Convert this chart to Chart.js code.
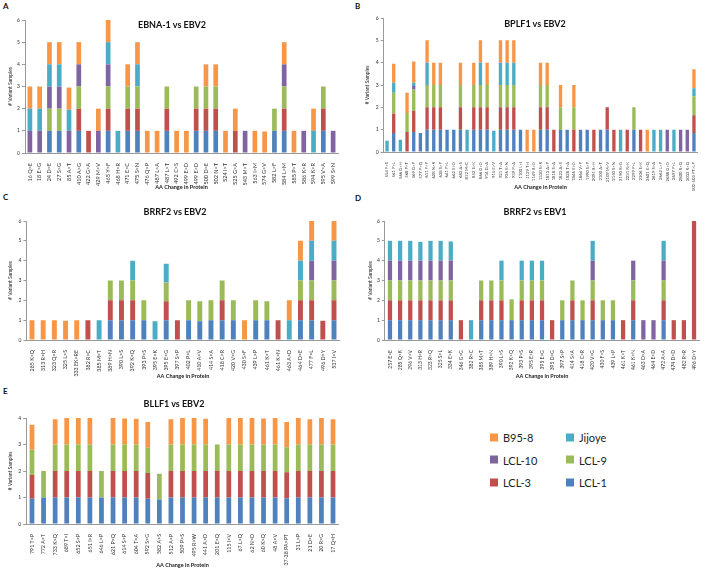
<!DOCTYPE html>
<html><head><meta charset="utf-8">
<script src="https://cdn.jsdelivr.net/npm/chart.js@4.4.1/dist/chart.umd.min.js"></script>
<style>
body{margin:0;width:704px;height:569px;position:relative;background:#fff;font-family:Lato,"Open Sans",sans-serif;overflow:hidden}
canvas{position:absolute}
.t{position:absolute;transform:translate(-50%,-50%);font-weight:bold;font-size:9px;white-space:nowrap;color:#111}
.l{position:absolute;font-weight:bold;font-size:8px;color:#111}
.lg{position:absolute;font-size:11px;color:#222;display:flex;align-items:center;transform:translateY(-50%);white-space:nowrap}
.lg span{display:inline-block;width:8px;height:8px;margin-right:5px}
</style></head><body>
<div class="l" style="left:3px;top:1px">A</div>
<div class="l" style="left:355px;top:1px">B</div>
<div class="l" style="left:3px;top:192px">C</div>
<div class="l" style="left:355px;top:193px">D</div>
<div class="l" style="left:3px;top:386px">E</div>
<canvas id="cA" width="352" height="195" style="left:0;top:0"></canvas>
<canvas id="cB" width="352" height="195" style="left:352px;top:0"></canvas>
<canvas id="cC" width="352" height="190" style="left:0;top:195px"></canvas>
<canvas id="cD" width="352" height="190" style="left:352px;top:195px"></canvas>
<canvas id="cE" width="352" height="184" style="left:0;top:385px"></canvas>
<div class="t" style="left:172px;top:24px">EBNA-1 vs EBV2</div>
<div class="t" style="left:535px;top:23px">BPLF1 vs EBV2</div>
<div class="t" style="left:175px;top:211px">BRRF2 vs EBV2</div>
<div class="t" style="left:535px;top:211px">BRRF2 vs EBV1</div>
<div class="t" style="left:174px;top:403px">BLLF1 vs EBV2</div>
<div id="legend"></div>
<script>
// ---------- series ----------
const seriesNames = ['LCL-1','LCL-3','LCL-9','LCL-10','Jijoye','B95-8'];
const seriesColors = ['#4F81BD','#C0504D','#9BBB59','#8064A2','#4BACC6','#F79646'];

// ---------- Panel A: EBNA-1 vs EBV2 ----------
const A_labels = ['16 Q>E','18 E>G','24 D>E','27 S>G','85 A>T','410 A>G','422 G>A','429 M>V','465 Y>F','468 H>R','471 E>C','475 S>N','476 Q>P','487 L>A','487 L>T','492 C>S','499 E>D','499 E>D','500 D>E','502 N>T','524 I>T','525 G>A','543 M>T','563 I>M','574 G>V','582 L>F','584 L>M','585 P>T','586 K>R','594 K>R','595 V>A','599 S>N'];
const A_LCL1  = [0,0,1,1,0,1,0,0,1,0,1,1,0,0,1,0,0,1,1,1,0,0,0,0,0,1,1,0,0,0,1,0];
const A_LCL3  = [0,0,0,0,0,1,1,0,1,0,1,1,0,0,1,0,0,1,1,1,0,1,0,0,0,0,1,0,0,0,1,0];
const A_LCL9  = [0,0,1,1,0,1,0,0,1,0,1,1,0,0,1,0,0,1,1,1,0,0,0,0,0,1,1,0,0,0,1,0];
const A_LCL10 = [1,1,1,1,1,1,0,1,1,0,0,0,0,0,0,0,0,0,0,0,0,0,1,0,0,0,1,0,1,0,0,1];
const A_Jij   = [1,1,1,1,0.95,0,0,0,1,1,0,1,0,0,0,0,0,0,0,0,0,0,0,0,0,0,0,0,0,1,0,0];
const A_B958  = [1,1,1,1,1,1,0,1,1,0,1,1,1,1,0,1,1,0,1,1,1,1,0,1,0.97,0,1,1,0,1,0,0];

// ---------- Panel B: BPLF1 vs EBV2 ----------
const B_labels = ['554 F>S','561 P>L','566 G>H','568 P>T','569 G>P','577 P>Q','611 F>P','628 N>R','638 S>P','641 P>L','662 E>D','682 A>S','812 M>C','852 E>K','866 G>D','914 G>A','915 E>V','921 T>A','926 E>N','939 P>A','1100 L>I','1129 T>I','1149 R>D','1330 S>R','1813 A>P','1818 S>A','1823 A>S','1828 T>A','1846 E>D','1864 V>P','1990 S>P','2095 R>H','2100 A>T','2109 M>V','2150 S>N','2190 R>G','2231 R>K','2299 P>L','2306 E>K','2601 E>Q','2619 S>A','2662 L>P','2688 G>D','2697 P>L','2800 R>Q','3033 R>Q','502-503 PT>LP'];
const B_LCL1  = [0,0.85,0,0,0.9,0.85,1,1,1,1, 1,1,0,1,1,1,0,1,1,1, 1,0,0,1,1,0,1,1,0,1, 1,0,1,1,0,0,0,1,0,0, 0,0,0,0,0,0,0.85];
const B_LCL3  = [0,0.87,0,0.9,0.95,0,1,1,1,0, 0,1,0,1,1,1,0,1,1,1, 0,0,0,1,1,1,0,0,1,0, 0,1,0,1,1,0,1,0,1,0, 0,0,0,0,0,0,0.8];
const B_LCL9  = [0,0.93,0,0.85,0.95,0,1,1,1,0, 0,1,0,1,1,1,0,1,1,1, 0,0,0,1,1,0,1,0,1,0, 0,0,0,0,0,0,0,1,0,0, 0,0,0,0,0,0,0.85];
const B_LCL10 = [0,0,0,0,0.15,0,0,0,0,0, 0,0,0,0,0,0,0,0,0,0, 0,0,0,0,0,0,0,0,0,0, 0,0,0,0,0,0,0,0,0,0, 0,0,1,0,1,1,0];
const B_Jij   = [0.5,0.45,0.55,0,0.15,0,1,0,0,0, 0,0,1,0,1,0,0.95,1,1,1, 0,0,0,0,0,0,0,0,0,0, 0,0,0,0,0,1,0,0,0,0, 1,1,0,1,0,0,0.35];
const B_B958  = [0,0.85,0,0.9,0.95,0,1,1,1,0, 0,1,0,1,1,1,0,1,1,1, 0,1,1,1,1,0,1,0,1,0, 0,0,0,0,0,0,0,0,0,1, 0,0,0,0,0,0,0.85];

// ---------- Panel C: BRRF2 vs EBV2 ----------
const C_labels = ['285 K>Q','313 R>H','323 Q>R','325 L>S','333 EK>RE','382 R>C','385 M>T','389 H>N','390 L>S','392 K>Q','393 P>S','395 E>K','395 E>G','397 S>P','402 P>L','410 A>V','414 S>A','418 C>R','420 V>G','430 S>F','439 L>P','461 K>T','461 K>N','463 A>D','464 D>E','477 F>L','496 D>Y','537 I>V'];
const C_LCL1  = [0,0,0,0,0,0,0,1,1,1,1,0,1,0,1,0.95,1,1,1,0,1,1,0,0,1,1,0,1];
const C_LCL3  = [0,0,0,0,0,1,0,1,1,1,0,0,0.95,1,0,0,0,1,0,0,0,0,1,0,1,1,0.97,1];
const C_LCL9  = [0,0,0,0,0,0,0,1,1,1,1,0,0.95,0,1,1,1,1,1,0,1,0.95,0,0,1,1,0,1];
const C_LCL10 = [0,0,0,0,0,0,0,0,0,0,0,0,0,0,0,0,0,0,0,0,0,0,0,0,0,1,0,1];
const C_Jij   = [0,0,0,0,0,0,1,0,0,1,0,0.95,0.95,0,0,0,0,0,0,0,0,0,0,1,1,1,0,1];
const C_B958  = [1,1,1,0.97,1,0,0,0,0,0,0,0,0,0,0,0,0,0,0,1,0,0,0,1,1,1,0,1];

// ---------- Panel D: BRRF2 vs EBV1 ----------
const D_labels = ['257 E>E','285 Q>K','296 V>V','313 H>R','323 R>Q','325 S>L','334 E>K','346 G>G','382 R>C','385 M>T','389 H>N','390 L>S','392 K>Q','393 P>S','395 E>R','395 E>G','395 D>G','397 S>P','414 S>A','418 C>R','420 V>G','430 F>S','439 L>P','461 K>T','461 K>N','463 D>A','464 E>D','472 A>A','474 D>D','482 R>R','496 D>Y'];
const D_LCL1  = [1,1,1,1,1,1,1,0,0,1,1,1,1,1,1,1,0,1,1,1,1,1,1,0,1,0,0,1,0,0,0];
const D_LCL3  = [1,1,1,1,1,1,1,1,0,1,1,1,0,1,1,1,1,0,1,0,1,0,0,1,1,0,0,1,1,1,6];
const D_LCL9  = [1,1,1,1,1,1,1,0,0,1,1,1,1.05,1,1,1,0,1,1,1,1,1,1,0,1,0,0,1,0,0,0];
const D_LCL10 = [1,1,1,1,1,1,1,0,0,0,0,0,0,0,0,0,0,0,0,0,1,0,0,0,1,1,1,1,0,0,0];
const D_Jij   = [1,1,1,0.95,1,1,0.97,0,1,0,0,1,0,1,1,1,0,0,0,0,1,0,0,0,0,0,0,1,0,0,0];
const D_B958  = [0,0,0,0,0,0,0,0,0,0,0,0,0,0,0,0,0,0,0,0,0,0,0,0,0,0,0,0,0,0,0];

// ---------- Panel E: BLLF1 vs EBV2 ----------
const E_labels = ['791 T>P','772 A>T','733 K>Q','689 T>I','652 S>P','651 I>R','646 L>P','621 P>Q','614 S>P','604 T>A','592 S>G','582 A>S','512 A>P','509 P>S','495 R>W','441 A>D','201 E>Q','115 I>V','67 L>Q','62 N>D','60 K>Q','48 A>V','37-38 PA>PT','31 L>P','21 D>E','20 R>G','17 Q>H'];
const E_LCL1  = [0.95,1,1,1,1,1,1,1,1,1,0.95,0.92,1,1,1,1,1,1,1,1,1,1,0.97,1,1,1,1];
const E_LCL3  = [0.9,0,1,1,1,1,0,1,1,1,0.97,0,1,1,1,1,1,1,1,1,1,1,0.98,1,1,1,1];
const E_LCL9  = [0.95,1,1,1,1,1,1,1,1,1,0.96,0.98,1,1,1,1,1,1,1,1,1,1,0.95,1,1,1,1];
const E_LCL10 = [0,0,0,0,0,0,0,0,0,0,0,0,0,0,0,0,0,0,0,0,0,0,0,0,0,0,0];
const E_Jij   = [0,0,0,0,0,0,0,0,0,0,0,0,0,0,0,0,0,0,0,0,0,0,0,0,0,0,0];
const E_B958  = [0.95,0,0.95,1,1,1,0,1,0.98,0.97,0.97,0,0.95,1,1,0.97,0,1,1,1,0.98,1,0.95,1,0.95,1,0.95];

const AXIS = '#9a9a9a';
const FONT = 'Lato';
function panel(id, labels, series, cfg){
  return new Chart(document.getElementById(id), {
    type:'bar',
    data:{labels:labels, datasets:series.map((d,i)=>({label:seriesNames[i], data:d, backgroundColor:seriesColors[i], borderWidth:0, barPercentage:cfg.bp, categoryPercentage:1}))},
    options:{
      responsive:false, animation:false, devicePixelRatio:1,
      layout:{padding:{left:0, top:cfg.top, right:cfg.right, bottom:0}},
      plugins:{legend:{display:false}, tooltip:{enabled:false}, title:{display:false}},
      scales:{
        x:{stacked:true, grid:{display:false}, border:{display:true,color:AXIS},
           ticks:{autoSkip:false,minRotation:90,maxRotation:90,padding:2,color:'#333',font:{family:FONT,size:cfg.tf}},
           title:{display:true,text:'AA Change in Protein',color:'#222',font:{family:FONT,size:5.5,weight:'bold'},padding:{top:0,bottom:cfg.xpb}},
           afterFit:s=>{s.height=cfg.xh;}},
        y:{stacked:true, min:0, max:cfg.ymax,
           ticks:{stepSize:1,padding:2,color:'#333',font:{family:FONT,size:5}},
           grid:{drawOnChartArea:false,drawTicks:true,tickLength:3,color:AXIS},
           border:{display:true,color:AXIS},
           title:{display:true,text:'# Variant Samples',color:'#222',font:{family:FONT,size:5},padding:{top:cfg.ypt,bottom:0}},
           afterFit:s=>{s.width=cfg.yw;}}
      }
    }
  });
}

panel('cA', A_labels, [A_LCL1,A_LCL3,A_LCL9,A_LCL10,A_Jij,A_B958], {top:20,right:14,xh:42,xpb:4.7,yw:25,ypt:7,ymax:6,bp:0.48,tf:5.5});
panel('cB', B_labels, [B_LCL1,B_LCL3,B_LCL9,B_LCL10,B_Jij,B_B958], {top:18,right:6.7,xh:43,xpb:4.7,yw:31.7,ypt:12,ymax:6,bp:0.5,tf:4.2});
panel('cC', C_labels, [C_LCL1,C_LCL3,C_LCL9,C_LCL10,C_Jij,C_B958], {top:26,right:12.4,xh:45,xpb:5.7,yw:26.4,ypt:7,ymax:6,bp:0.44,tf:5.3});
panel('cD', D_labels, [D_LCL1,D_LCL3,D_LCL9,D_LCL10,D_Jij,D_B958], {top:26,right:4.9,xh:45,xpb:5.7,yw:32.9,ypt:15,ymax:6,bp:0.42,tf:5});
panel('cE', E_labels, [E_LCL1,E_LCL3,E_LCL9,E_LCL10,E_Jij,E_B958], {top:33,right:13.2,xh:45,xpb:0.5,yw:26.2,ypt:7,ymax:4,bp:0.41,tf:5.3});

// ---------- legend (two columns, reverse series order) ----------
const legendOrder = [5,4,3,2,1,0];
const lg = document.getElementById('legend');
legendOrder.forEach((si,k)=>{
  const row = Math.floor(k/2), col = k%2;
  const d = document.createElement('div');
  d.className = 'lg';
  d.style.left = (col ? 566 : 490) + 'px';
  d.style.top = (437 + row*22.5) + 'px';
  d.innerHTML = '<span style="background:'+seriesColors[si]+'"></span>' + seriesNames[si];
  lg.appendChild(d);
});
</script>
</body></html>
